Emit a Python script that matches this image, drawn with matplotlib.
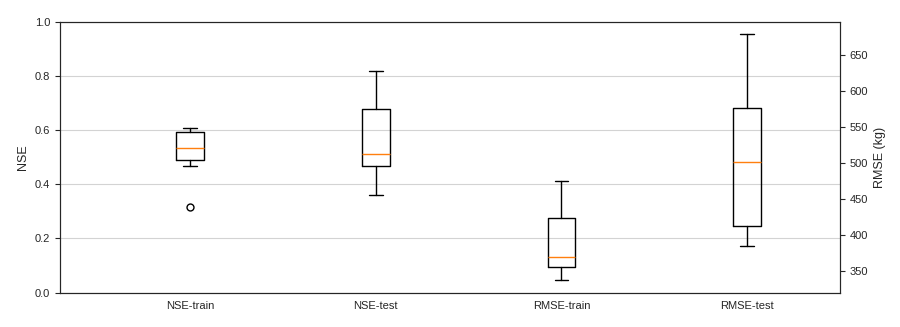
import matplotlib
matplotlib.use("Agg")
import matplotlib.pyplot as plt
import seaborn as sns

# box statistics
labels = ["NSE-train", "NSE-test", "RMSE-train", "RMSE-test"]
whislo = [0.469, 0.359, 336.6, 384.0]
q1 = [0.491, 0.466, 354.7, 411.8]
med = [0.532, 0.510, 368.7, 501.0]
q3 = [0.594, 0.679, 423.0, 576.2]
whishi = [0.609, 0.819, 474.5, 680.1]
fliers = [[0.317], [], [], []]

sns.set_style("ticks")
plt.rcParams["font.family"] = ["Liberation Sans", "DejaVu Sans"]

stats = []
for i in range(4):
    stats.append(dict(label=labels[i], whislo=whislo[i], q1=q1[i], med=med[i],
                      q3=q3[i], whishi=whishi[i], fliers=fliers[i]))

fig = plt.figure(figsize=(9, 3.27), dpi=100)
ax = fig.add_axes([0.0667, 0.105, 0.8667, 0.8288])
ax2 = ax.twinx()

ax.yaxis.grid(True, color="#d3d3d3", linewidth=0.8)
ax.set_axisbelow(True)

fp = dict(marker="o", markersize=5, markerfacecolor="none", markeredgecolor="black")
ax.bxp(stats[:2], positions=[1, 2], widths=0.15, manage_ticks=False, flierprops=fp)
ax2.bxp(stats[2:], positions=[3, 4], widths=0.15, manage_ticks=False, flierprops=fp)

ax.set_xlim(0.3, 4.5)
ax.set_ylim(0, 1)
ax2.set_ylim(319.4, 696.8)
ax.set_xticks([1, 2, 3, 4])
ax.set_xticklabels(labels)
ax.tick_params(axis="x", length=0, pad=6, labelsize=8)
ax.tick_params(axis="y", labelsize=8)
ax2.tick_params(axis="y", labelsize=8)
ax.set_ylabel("NSE", fontsize=9)
ax2.set_ylabel("RMSE (kg)", fontsize=9)

fig.savefig("out.png", dpi=100)
